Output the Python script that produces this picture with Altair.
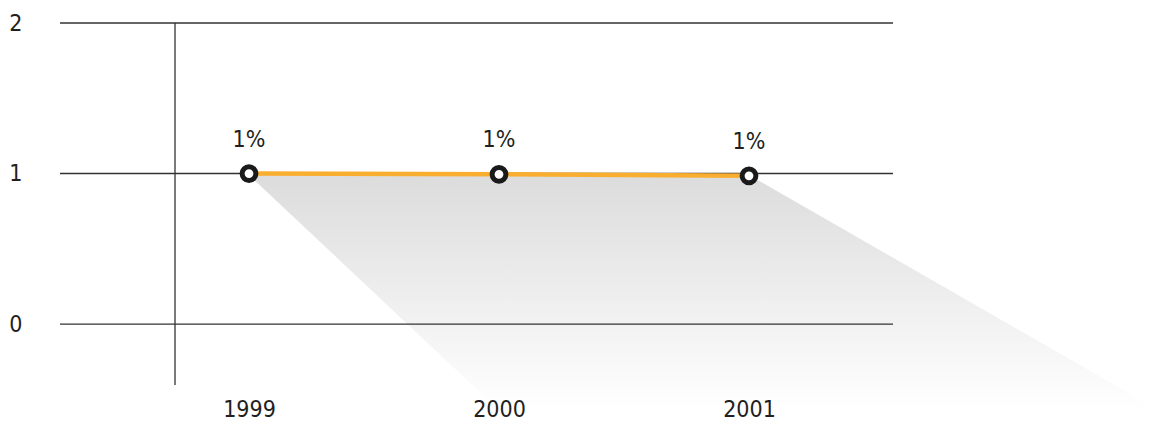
import altair as alt
import pandas as pd

years = [1999, 2000, 2001]
values = [1.0, 0.995, 0.985]
labels = ["1%", "1%", "1%"]
grid_values = [0, 1, 2]

# shadow trapezoid (top edge along the line, bottom edge projected down-right)
shadow_y = [0.99, -0.573]
shadow_x_left = [1999.0, 2000.0]
shadow_x_right = [2001.0, 2002.64]

divider_year = [1998.704]

FONT = "DejaVu Sans Condensed"
TXT = "#231f20"

df = pd.DataFrame({"year": years, "value": values, "label": labels})
shadow = pd.DataFrame({"sy": shadow_y, "xl": shadow_x_left, "xr": shadow_x_right})
div = pd.DataFrame({"dx": divider_year})
grid = pd.DataFrame({"g": grid_values})

xs = alt.Scale(domain=[1998.244, 2001.576], nice=False, zero=False)
ys = alt.Scale(domain=[-0.405, 2], nice=False, zero=False)

xaxis = alt.Axis(values=years, format="d", title=None, grid=False, domain=False,
                 ticks=False, labelPadding=13, labelFontSize=23, labelFont=FONT,
                 labelColor=TXT, labelBaseline="top", zindex=2)
yaxis = alt.Axis(values=grid_values, format="d", title=None, grid=False,
                 domain=False, ticks=False, labelPadding=38,
                 labelFontSize=23, labelFont=FONT, labelColor=TXT)

shadow_layer = alt.Chart(shadow).mark_area(
    orient="horizontal", clip=False,
    color=alt.Gradient(gradient="linear",
                       stops=[alt.GradientStop(color="#dcdcdc", offset=0),
                              alt.GradientStop(color="#ffffff", offset=1)],
                       x1=0, x2=0, y1=0, y2=1),
).encode(
    y=alt.Y("sy:Q", scale=ys, axis=yaxis),
    x=alt.X("xl:Q", scale=xs, axis=xaxis),
    x2="xr:Q",
)

grid_layer = alt.Chart(grid).mark_rule(color="#333333", strokeWidth=1.3).encode(
    y=alt.Y("g:Q", scale=ys),
)

div_layer = alt.Chart(div).mark_rule(color="#333333", strokeWidth=1.3).encode(
    x=alt.X("dx:Q", scale=xs),
)

line_layer = alt.Chart(df).mark_line(color="#f9ae2f", strokeWidth=4.5).encode(
    x=alt.X("year:Q", scale=xs),
    y=alt.Y("value:Q", scale=ys),
)

pt_layer = alt.Chart(df).mark_point(shape="circle", filled=True, fill="white",
                                    stroke="#1a1a1a", strokeWidth=5, size=190, opacity=1).encode(
    x=alt.X("year:Q", scale=xs),
    y=alt.Y("value:Q", scale=ys),
)

txt_layer = alt.Chart(df).mark_text(font=FONT, fontSize=23, color=TXT, dy=-34,
                                    baseline="middle").encode(
    x=alt.X("year:Q", scale=xs),
    y=alt.Y("value:Q", scale=ys),
    text="label:N",
)

chart = alt.layer(shadow_layer, grid_layer, div_layer, line_layer, pt_layer, txt_layer).properties(
    width=833, height=362,
    background="white",
    autosize=alt.AutoSizeParams(type="none"),
    padding={"left": 52, "top": 15, "right": 255, "bottom": 38},
).configure_view(strokeWidth=0, stroke="transparent")

chart.save("out.html", embed_options={"renderer": "svg", "actions": False})
